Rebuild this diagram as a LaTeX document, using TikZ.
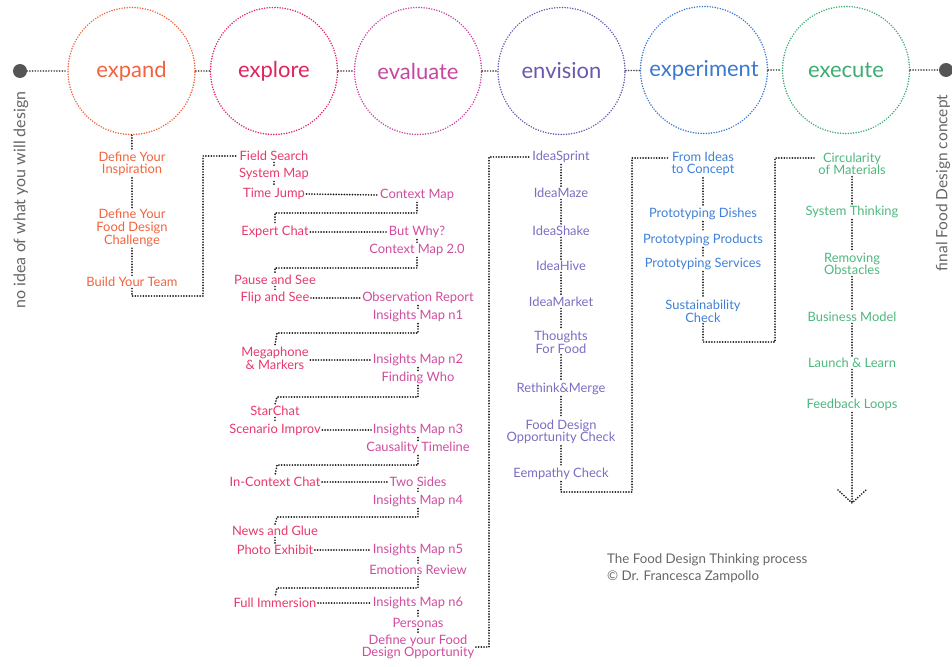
\documentclass[tikz,border=0pt]{standalone}
\usepackage{fontspec}
\setmainfont{Lato}
\definecolor{cExpand}{HTML}{F2633E}
\definecolor{cExplore}{HTML}{E2245C}
\definecolor{cExploreT}{HTML}{E63A6C}
\definecolor{cEval}{HTML}{C6479E}
\definecolor{cEvalT}{HTML}{D04C9E}
\definecolor{cEnv}{HTML}{6B58AE}
\definecolor{cEnvT}{HTML}{7A6DC2}
\definecolor{cExp}{HTML}{3A78D2}
\definecolor{cExpT}{HTML}{3F80D6}
\definecolor{cExe}{HTML}{3CAD72}
\definecolor{cExeT}{HTML}{4DB87E}
\definecolor{cGray}{HTML}{555555}
\definecolor{cTextGray}{HTML}{666666}
\begin{document}
\begin{tikzpicture}[x=1pt,y=-1pt,
  dl/.style={draw=black!90, line width=1.9pt, dash pattern=on 0pt off 2.7pt, line cap=round},
  gl/.style={draw=cGray, line width=1.9pt, dash pattern=on 0pt off 2.7pt, line cap=round},
  ring/.style={circle, minimum size=127pt, inner sep=0pt, line width=1.7pt, dash pattern=on 0pt off 2.6pt, line cap=round, font=\fontsize{22}{26}\selectfont},
  item/.style={font=\fontsize{12.9}{12.6}\selectfont, align=center, inner sep=1.5pt},
  ex/.style={item, text=cExpand},
  xl/.style={item, text=cExploreT},
  xr/.style={item, text=cEvalT},
  nv/.style={item, text=cEnvT},
  pe/.style={item, text=cExpT},
  ge/.style={item, text=cExeT},
  bigdot/.style={circle, fill=cGray, minimum size=14pt, inner sep=0pt}
]
\useasboundingbox (0,0) rectangle (952,666);

% top row
\node[bigdot] (start) at (20,71) {};
\node[bigdot] (finish) at (946,70) {};
\node[ring, draw=cExpand, text=cExpand] (expand) at (131.5,71) {expand};
\node[ring, draw=cExplore, text=cExplore] (explore) at (274,71) {explore};
\node[ring, draw=cEval, text=cEval] (evaluate) at (418,71) {evaluate};
\node[ring, draw=cEnv, text=cEnv] (envision) at (561.5,71) {envision};
\node[ring, draw=cExp, text=cExp] (experiment) at (704,70) {experiment};
\node[ring, draw=cExe, text=cExe] (execute) at (846,70) {execute};
\draw[gl] (start) -- (expand);
\draw[gl] (expand) -- (explore);
\draw[gl] (explore) -- (evaluate);
\draw[gl] (evaluate) -- (envision);
\draw[gl] (envision) -- (experiment);
\draw[gl] (experiment) -- (execute);
\draw[gl] (execute) -- (finish);

\node[rotate=90, text=cTextGray, font=\fontsize{16}{18}\selectfont] (lt) at (21,200) {no idea of what you will design};
\node[rotate=90, text=cTextGray, font=\fontsize{15.5}{18}\selectfont] (rt) at (943,183) {final Food Design concept};

% expand
\node[ex] (e1) at (132,164) {Define Your\\Inspiration};
\node[ex] (e2) at (132,228) {Define Your\\Food Design\\Challenge};
\node[ex] (e3) at (132,282) {Build Your Team};
\draw[dl] (expand) -- (e1);
\draw[dl] (e1) -- (e2);
\draw[dl] (e2) -- (e3);

% explore / evaluate
\node[xl] (x1) at (274,156) {Field Search};
\node[xl] (x2) at (274,174) {System Map};
\node[xl] (x3) at (274,194) {Time Jump};
\node[xr] (v1) at (417,195) {Context Map};
\node[xl] (x4) at (275,232) {Expert Chat};
\node[xr] (v2) at (417,232) {But Why?};
\node[xr] (v3) at (417,250) {Context Map 2.0};
\node[xl] (x5) at (275,280) {Pause and See};
\node[xl] (x6) at (275,298) {Flip and See};
\node[xr] (v4) at (418,298) {Observation Report};
\node[xr] (v5) at (418,316) {Insights Map n1};
\node[xl] (x7) at (275,358) {Megaphone\\\& Markers};
\node[xr] (v6) at (418,360) {Insights Map n2};
\node[xr] (v7) at (418,378) {Finding Who};
\node[xl] (x8) at (275,411) {StarChat};
\node[xl] (x9) at (275,430) {Scenario Improv};
\node[xr] (v8) at (418,430) {Insights Map n3};
\node[xr] (v9) at (418,448) {Causality Timeline};
\node[xl] (x10) at (275,482) {In-Context Chat};
\node[xr] (v10) at (418,482) {Two Sides};
\node[xr] (v11) at (418,501) {Insights Map n4};
\node[xl] (x11) at (275,531) {News and Glue};
\node[xl] (x12) at (275,550) {Photo Exhibit};
\node[xr] (v12) at (418,550) {Insights Map n5};
\node[xr] (v13) at (418,570) {Emotions Review};
\node[xl] (x13) at (275,603) {Full Immersion};
\node[xr] (v14) at (418,603) {Insights Map n6};
\node[xr] (v15) at (418,623) {Personas};
\node[xr] (v16) at (418,647) {Define your Food\\Design Opportunity};

\coordinate (c1) at (203,296);
\draw[dl] (e3.south) |- (c1) |- (x1.west);
\draw[dl] (x1) -- (x2);
\draw[dl] (x2) -- (x3);
\draw[dl] (x3.east) -- (v1.west);
\coordinate (k1) at (275,213);
\draw[dl] (v1.south) |- (k1) -- (x4.north);
\draw[dl] (x4.east) -- (v2.west);
\draw[dl] (v2) -- (v3);
\coordinate (k2) at (275,268);
\draw[dl] (v3.south) |- (k2) -- (x5.north);
\draw[dl] (x5) -- (x6);
\draw[dl] (x6.east) -- (v4.west);
\draw[dl] (v4) -- (v5);
\coordinate (k3) at (277,333);
\draw[dl] (v5.south) |- (k3) -- (x7.north);
\draw[dl] (x7.east |- v6.west) -- (v6.west);
\draw[dl] (v6) -- (v7);
\coordinate (k4) at (277,397);
\draw[dl] (v7.south) |- (k4) -- (x8.north);
\draw[dl] (x8) -- (x9);
\draw[dl] (x9.east) -- (v8.west);
\draw[dl] (v8) -- (v9);
\coordinate (k5) at (277,465);
\draw[dl] (v9.south) |- (k5) -- (x10.north);
\draw[dl] (x10.east) -- (v10.west);
\draw[dl] (v10) -- (v11);
\coordinate (k6) at (277,517);
\draw[dl] (v11.south) |- (k6) -- (x11.north);
\draw[dl] (x11) -- (x12);
\draw[dl] (x12.east) -- (v12.west);
\draw[dl] (v12) -- (v13);
\coordinate (k7) at (277,588);
\draw[dl] (v13.south) |- (k7) -- (x13.north);
\draw[dl] (x13.east) -- (v14.west);
\draw[dl] (v14) -- (v15);
\draw[dl] (v15) -- (v16);

% envision
\node[nv] (n1) at (561,157) {IdeaSprint};
\node[nv] (n2) at (561,193) {IdeaMaze};
\node[nv] (n3) at (561,231) {IdeaShake};
\node[nv] (n4) at (561,266) {IdeaHive};
\node[nv] (n5) at (561,302) {IdeaMarket};
\node[nv] (n6) at (561,342) {Thoughts\\For Food};
\node[nv] (n7) at (561,389) {Rethink\&Merge};
\node[nv] (n8) at (561,432) {Food Design\\Opportunity Check};
\node[nv] (n9) at (561,474) {Eempathy Check};
\coordinate (k8) at (489,157);
\draw[dl] (v16.east) -| (k8) -- (n1.west);
\draw[dl] (n1) -- (n2);
\draw[dl] (n2) -- (n3);
\draw[dl] (n3) -- (n4);
\draw[dl] (n4) -- (n5);
\draw[dl] (n5) -- (n6);
\draw[dl] (n6) -- (n7);
\draw[dl] (n7) -- (n8);
\draw[dl] (n8) -- (n9);

% experiment
\node[pe] (p1) at (703,164) {From Ideas\\to Concept};
\node[pe] (p2) at (703,214) {Prototyping Dishes};
\node[pe] (p3) at (703,240) {Prototyping Products};
\node[pe] (p4) at (703,264) {Prototyping Services};
\node[pe] (p5) at (703,311) {Sustainability\\Check};
\coordinate (k9) at (632,492);
\coordinate (k10) at (632,158);
\draw[dl] (n9.south) |- (k9) -- (k10) -- (p1.west |- k10);
\draw[dl] (p1) -- (p2);
\draw[dl] (p2) -- (p3);
\draw[dl] (p3) -- (p4);
\draw[dl] (p4) -- (p5);

% execute
\node[ge] (g1) at (852,164) {Circularity\\of Materials};
\node[ge] (g2) at (852,212) {System Thinking};
\node[ge] (g3) at (852,264) {Removing\\Obstacles};
\node[ge] (g4) at (852,317) {Business Model};
\node[ge] (g5) at (852,363) {Launch \& Learn};
\node[ge] (g6) at (852,405) {Feedback Loops};
\coordinate (k11) at (775,342);
\coordinate (k12) at (775,158);
\draw[dl] (p5.south) |- (k11) -- (k12) -- (g1.west |- k12);
\draw[dl] (g1) -- (g2);
\draw[dl] (g2) -- (g3);
\draw[dl] (g3) -- (g4);
\draw[dl] (g4) -- (g5);
\draw[dl] (g5) -- (g6);
\coordinate (aend) at (852,503);
\coordinate (ah1) at (838,490);
\coordinate (ah2) at (866,490);
\draw[dl] (g6) -- (aend);
\draw[dl] (ah1) -- (aend) -- (ah2);

% footer
\node[anchor=west, align=left, text=cTextGray, font=\fontsize{13.3}{17}\selectfont, inner sep=0pt] (foot) at (607,568) {The Food Design Thinking process\\© Dr. Francesca Zampollo};
\end{tikzpicture}
\end{document}
